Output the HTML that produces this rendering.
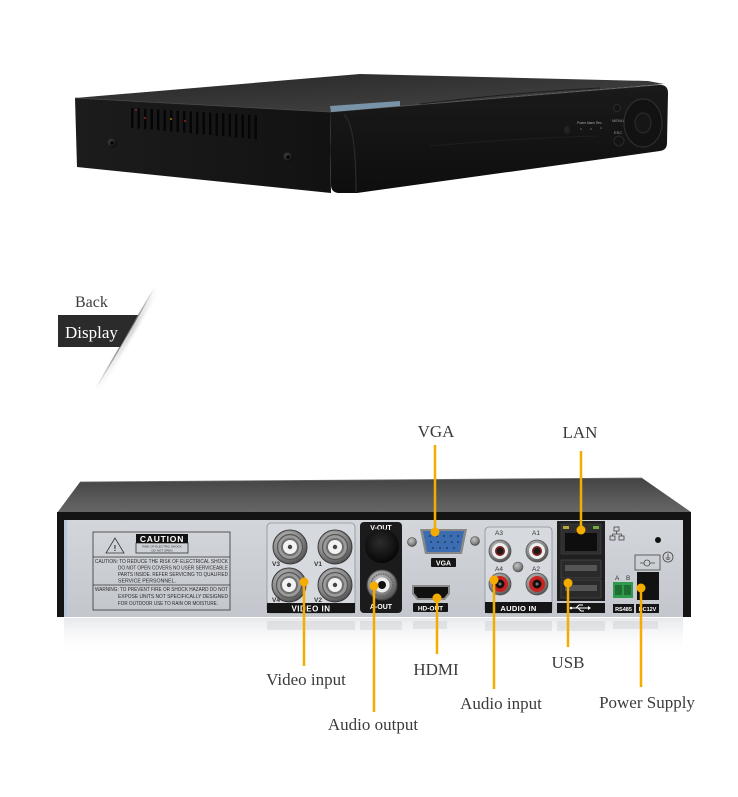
<!DOCTYPE html>
<html><head><meta charset="utf-8"><style>
html,body{margin:0;padding:0;background:#fff;}
svg{display:block;}
.lbl{font-family:"Liberation Serif",serif;font-size:17px;fill:#3b3b3b;}
.pl{font-family:"Liberation Sans",sans-serif;font-weight:bold;fill:#fff;}
.ct{font-family:"Liberation Sans",sans-serif;fill:#2a2a2a;}
</style></head><body>
<svg width="738" height="797" viewBox="0 0 738 797" xmlns="http://www.w3.org/2000/svg">
<defs>
 <linearGradient id="topS" x1="0" y1="0" x2="1" y2="1"><stop offset="0" stop-color="#262626"/><stop offset="1" stop-color="#474747"/></linearGradient>
 <linearGradient id="leftF" x1="0" y1="0" x2="1" y2="0"><stop offset="0" stop-color="#1c1c1c"/><stop offset="1" stop-color="#121212"/></linearGradient>
 <linearGradient id="bez" x1="0" y1="0" x2="0" y2="1"><stop offset="0" stop-color="#1a1a1a"/><stop offset="1" stop-color="#0e0e0e"/></linearGradient>
 <linearGradient id="rTop" x1="0" y1="0" x2="0" y2="1"><stop offset="0" stop-color="#434343"/><stop offset="0.6" stop-color="#5a5a5a"/><stop offset="1" stop-color="#666"/></linearGradient>
 <linearGradient id="plate" x1="0" y1="0" x2="0" y2="1"><stop offset="0" stop-color="#d3d6db"/><stop offset="1" stop-color="#c3c7cd"/></linearGradient>
 <linearGradient id="refl" x1="0" y1="0" x2="0" y2="1"><stop offset="0" stop-color="#e4e6e9" stop-opacity="0.9"/><stop offset="1" stop-color="#ffffff" stop-opacity="0"/></linearGradient>
 <linearGradient id="diag" gradientUnits="userSpaceOnUse" x1="155" y1="287" x2="95" y2="390"><stop offset="0" stop-color="#888" stop-opacity="0"/><stop offset="0.35" stop-color="#666" stop-opacity="0.9"/><stop offset="0.7" stop-color="#777" stop-opacity="0.7"/><stop offset="1" stop-color="#999" stop-opacity="0"/></linearGradient>
 <linearGradient id="diagS" gradientUnits="userSpaceOnUse" x1="155" y1="287" x2="95" y2="390"><stop offset="0" stop-color="#bbb" stop-opacity="0"/><stop offset="0.4" stop-color="#bbb" stop-opacity="0.8"/><stop offset="1" stop-color="#ccc" stop-opacity="0"/></linearGradient>
 <radialGradient id="metal" cx="0.4" cy="0.35" r="0.7"><stop offset="0" stop-color="#c4c4c4"/><stop offset="0.6" stop-color="#8a8a8a"/><stop offset="1" stop-color="#4a4a4a"/></radialGradient>
 <radialGradient id="screw" cx="0.4" cy="0.4" r="0.6"><stop offset="0" stop-color="#4a4a4a"/><stop offset="1" stop-color="#0a0a0a"/></radialGradient>
 <radialGradient id="blk" cx="0.45" cy="0.4" r="0.6"><stop offset="0" stop-color="#2c2c2c"/><stop offset="1" stop-color="#070707"/></radialGradient>
 <filter id="bl" x="-50%" y="-10%" width="200%" height="120%"><feGaussianBlur stdDeviation="1.5"/></filter>
 <g id="bnc">
  <circle r="17" fill="url(#metal)" stroke="#3a3a3a" stroke-width="1"/>
  <circle r="12.5" fill="#9a9a9a" stroke="#555" stroke-width="1.2"/>
  <circle r="9" fill="#6e6e6e"/>
  <circle r="7" fill="#f2f2f2"/>
  <circle r="2.2" fill="#444"/>
 </g>
 <g id="rcaW">
  <circle r="11" fill="url(#metal)" stroke="#555" stroke-width="0.8"/>
  <circle r="8" fill="#eeeeee"/>
  <circle r="5" fill="#7a1c1c"/>
  <circle r="3.2" fill="#1a1a1a"/>
 </g>
 <g id="rcaR">
  <circle r="11" fill="url(#metal)" stroke="#555" stroke-width="0.8"/>
  <circle r="8" fill="#c9221f"/>
  <circle r="4.5" fill="#111"/>
  <circle r="1.5" fill="#777"/>
 </g>
</defs>

<rect width="738" height="797" fill="#fff"/>

<!-- ================= TOP DVR (front view) ================= -->
<polygon points="75,98 360,74 648,81 664,84 330,112" fill="url(#topS)"/>
<polygon points="75,98 330,112 331,193 77,167" fill="url(#leftF)"/>
<line x1="75" y1="98" x2="330" y2="112" stroke="#4a4a4a" stroke-width="0.8"/>
<path d="M330,112 L658,85 Q668,84 668,93 L667,143 Q667,150 660,151 L357,193 L338,193 Q331,192 331,185 Z" fill="url(#bez)"/>
<path d="M330,112 L658,85" stroke="#555" stroke-width="0.8" fill="none"/>
<path d="M344,115 Q356,124 356,192" stroke="#2b2b2b" stroke-width="1.2" fill="none"/>
<path d="M420,104 Q520,92 600,88 M430,146 Q520,138 598,136" stroke="#1f1f1f" stroke-width="1" fill="none"/>
<polygon points="330,106 400,101 400,106 331,112" fill="#8db2cc" opacity="0.75"/>
<!-- slots -->
<g fill="#050505">
<rect x="131" y="108" width="2.4" height="20"/><rect x="137.5" y="108.4" width="2.4" height="20.2"/>
<rect x="144" y="108.8" width="2.4" height="20.4"/><rect x="150.5" y="109.1" width="2.4" height="20.6"/>
<rect x="157" y="109.5" width="2.4" height="20.8"/><rect x="163.5" y="109.9" width="2.4" height="21"/>
<rect x="170" y="110.3" width="2.4" height="21.2"/><rect x="176.5" y="110.7" width="2.4" height="21.4"/>
<rect x="183" y="111" width="2.4" height="21.6"/><rect x="189.5" y="111.4" width="2.4" height="21.8"/>
<rect x="196" y="111.8" width="2.4" height="22"/><rect x="202.5" y="112.2" width="2.4" height="22.2"/>
<rect x="209" y="112.6" width="2.4" height="22.4"/><rect x="215.5" y="113" width="2.4" height="22.6"/>
<rect x="222" y="113.3" width="2.4" height="22.8"/><rect x="228.5" y="113.7" width="2.4" height="23"/>
<rect x="235" y="114.1" width="2.4" height="23.2"/><rect x="241.5" y="114.5" width="2.4" height="23.4"/>
<rect x="248" y="114.9" width="2.4" height="23.6"/><rect x="254.5" y="115.3" width="2.4" height="23.8"/>
</g>
<circle cx="136" cy="110" r="0.9" fill="#c22"/>
<circle cx="145" cy="118" r="0.9" fill="#c22"/>
<circle cx="171" cy="119" r="0.9" fill="#d90"/>
<circle cx="185" cy="121" r="0.9" fill="#c22"/>
<circle cx="112" cy="143" r="5" fill="url(#screw)"/><circle cx="112" cy="143" r="1.8" fill="#000"/>
<circle cx="288" cy="157" r="5" fill="url(#screw)"/><circle cx="288" cy="157" r="1.8" fill="#000"/>
<!-- front controls -->
<ellipse cx="643" cy="123" rx="19" ry="24" fill="#121212" stroke="#2e2e2e" stroke-width="1.2"/>
<ellipse cx="643" cy="123" rx="8" ry="10" fill="#161616" stroke="#2e2e2e" stroke-width="1"/>
<circle cx="617" cy="108" r="3.5" fill="#141414" stroke="#2a2a2a"/>
<circle cx="619" cy="141" r="5" fill="#141414" stroke="#2a2a2a"/>
<text x="612" y="122" font-family="Liberation Sans,sans-serif" font-size="4" fill="#999">MENU</text>
<text x="614" y="134" font-family="Liberation Sans,sans-serif" font-size="4" fill="#999">ESC</text>
<text x="577" y="124" font-family="Liberation Sans,sans-serif" font-size="3.2" fill="#aaa">Power Alarm Rec</text>
<circle cx="581" cy="129" r="0.8" fill="#666"/><circle cx="591" cy="129" r="0.8" fill="#666"/><circle cx="601" cy="128" r="0.8" fill="#666"/>
<ellipse cx="567" cy="130" rx="3" ry="4" fill="#222"/>

<!-- ================= Back / Display ================= -->
<line x1="157" y1="288" x2="97" y2="391" stroke="url(#diagS)" stroke-width="4" filter="url(#bl)"/>
<line x1="155" y1="287" x2="95" y2="390" stroke="url(#diag)" stroke-width="1.4"/>
<text x="75" y="307" class="lbl" style="font-size:16px">Back</text>
<polygon points="58,315 138,315 120,347 58,347" fill="#2b2b2b"/>
<text x="65" y="338" class="lbl" style="fill:#fff;font-size:17px">Display</text>

<!-- ================= REAR DVR ================= -->
<polygon points="80,482 642,478 691,512 57,513" fill="url(#rTop)"/>
<line x1="80" y1="482" x2="642" y2="478" stroke="#6a6a6a" stroke-width="0.8"/>
<rect x="57" y="512" width="634" height="105" fill="#141414"/>
<rect x="64" y="520" width="619" height="97" fill="url(#plate)"/>
<rect x="64" y="520" width="3" height="97" fill="#a9c2d8" opacity="0.7"/>
<!-- reflection -->
<rect x="64" y="618" width="619" height="38" fill="url(#refl)"/>
<g fill="#000" opacity="0.06">
 <rect x="267" y="621" width="88" height="9"/><rect x="360" y="621" width="42" height="9"/>
 <rect x="413" y="621" width="34" height="8"/><rect x="485" y="621" width="67" height="10"/>
 <rect x="557" y="621" width="48" height="10"/><rect x="613" y="621" width="45" height="8"/>
</g>

<!-- caution label -->
<g stroke="#333" stroke-width="0.8" fill="none">
 <rect x="93" y="532" width="137" height="78"/>
 <line x1="93" y1="557" x2="230" y2="557"/>
 <line x1="93" y1="585" x2="230" y2="585"/>
 <polygon points="115,538 106,553 124,553"/>
 <rect x="136" y="543" width="52" height="10"/>
</g>
<rect x="136" y="534" width="52" height="9" fill="#111"/>
<text x="162" y="542" class="pl" font-size="8.5" text-anchor="middle" letter-spacing="0.8">CAUTION</text>
<text x="162" y="547.5" class="ct" font-size="3" text-anchor="middle">RISK OF ELECTRIC SHOCK</text>
<text x="162" y="551.5" class="ct" font-size="3" text-anchor="middle">DO NOT OPEN</text>
<text x="115" y="551" class="ct" font-size="8" text-anchor="middle" font-weight="bold">!</text>
<g class="ct" font-size="5">
 <text x="95" y="563" textLength="133" lengthAdjust="spacingAndGlyphs">CAUTION: TO REDUCE THE RISK OF ELECTRICAL SHOCK</text>
 <text x="118" y="569.5" textLength="110" lengthAdjust="spacingAndGlyphs">DO NOT OPEN COVERS NO USER SERVICEABLE</text>
 <text x="118" y="576" textLength="110" lengthAdjust="spacingAndGlyphs">PARTS INSIDE. REFER SERVICING TO QUALIFIED</text>
 <text x="118" y="582.5" textLength="58" lengthAdjust="spacingAndGlyphs">SERVICE PERSONNEL.</text>
 <text x="95" y="591" textLength="133" lengthAdjust="spacingAndGlyphs">WARNING: TO PREVENT FIRE OR SHOCK HAZARD DO NOT</text>
 <text x="118" y="598" textLength="110" lengthAdjust="spacingAndGlyphs">EXPOSE UNITS NOT SPECIFICALLY DESIGNED</text>
 <text x="118" y="605" textLength="100" lengthAdjust="spacingAndGlyphs">FOR OUTDOOR USE TO RAIN OR MOISTURE.</text>
</g>

<!-- video in panel -->
<rect x="267" y="523" width="88" height="90" rx="4" fill="#d6d9de" stroke="#8e9298" stroke-width="0.8"/>
<rect x="267" y="603" width="88" height="10" fill="#151515"/>
<text x="311" y="611.5" class="pl" font-size="8" text-anchor="middle" letter-spacing="0.5">VIDEO IN</text>
<use href="#bnc" x="290" y="547"/>
<use href="#bnc" x="335" y="547"/>
<use href="#bnc" x="289" y="585"/>
<use href="#bnc" x="335" y="585"/>
<g font-family="Liberation Sans,sans-serif" font-weight="bold" font-size="6.5" fill="#333">
 <text x="272" y="566">V3</text><text x="314" y="566">V1</text>
 <text x="272" y="602">V4</text><text x="314" y="602">V2</text>
</g>

<!-- V-OUT / A-OUT -->
<rect x="360" y="522" width="42" height="91" rx="4" fill="#1b1b1b"/>
<text x="381" y="530" class="pl" font-size="7" text-anchor="middle" fill="#ddd">V-OUT</text>
<circle cx="382" cy="546" r="17" fill="url(#blk)"/>
<circle cx="382" cy="585" r="15" fill="url(#metal)" stroke="#444"/>
<circle cx="382" cy="585" r="11" fill="none" stroke="#666" stroke-width="1.5" stroke-dasharray="1.5 1"/>
<circle cx="382" cy="585" r="7.5" fill="#eee"/>
<circle cx="382" cy="585" r="4" fill="#111"/>
<text x="381" y="609" class="pl" font-size="7" text-anchor="middle" fill="#ddd">A-OUT</text>

<!-- VGA -->
<circle cx="412" cy="542" r="4.5" fill="url(#metal)" stroke="#444" stroke-width="0.6"/>
<circle cx="475" cy="541" r="4.5" fill="url(#metal)" stroke="#444" stroke-width="0.6"/>
<polygon points="420,529 467,529 462,554 425,554" fill="#888"/>
<polygon points="423,531 464,531 460,552 427,552" fill="#3b6db0"/>
<g fill="#1e3f6e">
 <circle cx="430" cy="536" r="1"/><circle cx="437" cy="536" r="1"/><circle cx="444" cy="536" r="1"/><circle cx="451" cy="536" r="1"/><circle cx="458" cy="536" r="1"/>
 <circle cx="431" cy="542" r="1"/><circle cx="438" cy="542" r="1"/><circle cx="445" cy="542" r="1"/><circle cx="452" cy="542" r="1"/><circle cx="458" cy="542" r="1"/>
 <circle cx="433" cy="548" r="1"/><circle cx="440" cy="548" r="1"/><circle cx="447" cy="548" r="1"/><circle cx="454" cy="548" r="1"/>
</g>
<rect x="431" y="558" width="25" height="9" rx="1" fill="#151515"/>
<text x="443.5" y="565.5" class="pl" font-size="7" text-anchor="middle">VGA</text>

<!-- HDMI -->
<path d="M412,585 L450,585 L450,594 L445,600 L417,600 L412,594 Z" fill="#8a8a8a"/>
<path d="M414,587 L448,587 L448,593 L444,598 L418,598 L414,593 Z" fill="#111"/>
<rect x="413" y="603" width="35" height="9" rx="1" fill="#151515"/>
<text x="430.5" y="610.5" class="pl" font-size="6.5" text-anchor="middle">HD-OUT</text>

<!-- Audio in panel -->
<rect x="485" y="527" width="67" height="86" rx="4" fill="#d6d9de" stroke="#8e9298" stroke-width="0.8"/>
<rect x="485" y="602" width="67" height="11" fill="#151515"/>
<text x="518.5" y="611" class="pl" font-size="7.5" text-anchor="middle" letter-spacing="0.3">AUDIO IN</text>
<g font-family="Liberation Sans,sans-serif" font-size="6.5" fill="#333">
 <text x="495" y="535">A3</text><text x="532" y="535">A1</text>
 <text x="495" y="571">A4</text><text x="532" y="571">A2</text>
</g>
<use href="#rcaW" x="500" y="551"/>
<use href="#rcaW" x="537" y="551"/>
<use href="#rcaR" x="500" y="584"/>
<use href="#rcaR" x="537" y="584"/>
<circle cx="518" cy="567" r="5" fill="url(#metal)" stroke="#555" stroke-width="0.6"/>

<!-- LAN / USB -->
<rect x="557" y="521" width="48" height="80" fill="#1f1f1f"/>
<rect x="561" y="524" width="40" height="30" fill="#2e2e2e" stroke="#444" stroke-width="0.6"/>
<rect x="565" y="533" width="32" height="18" fill="#0e0e0e"/>
<rect x="563" y="526" width="6" height="3" fill="#b9a53a"/>
<rect x="593" y="526" width="6" height="3" fill="#6fae3c"/>
<rect x="561" y="560" width="40" height="18" fill="#2a2a2a" stroke="#555" stroke-width="0.6"/>
<rect x="565" y="565" width="32" height="6" fill="#555"/>
<rect x="561" y="580" width="40" height="18" fill="#2a2a2a" stroke="#555" stroke-width="0.6"/>
<rect x="565" y="585" width="32" height="6" fill="#555"/>
<rect x="557" y="603" width="48" height="10" fill="#151515"/>
<g stroke="#fff" stroke-width="1" fill="none">
 <line x1="572" y1="608" x2="588" y2="608"/>
 <path d="M576,608 L579,605 L583,605"/><path d="M578,608 L581,611 L584,611"/>
</g>
<circle cx="571" cy="608" r="1.3" fill="#fff"/>
<polygon points="588,606 591,608 588,610" fill="#fff"/>

<!-- right section -->
<g stroke="#444" stroke-width="0.8" fill="none">
 <rect x="614" y="527" width="5" height="4"/><rect x="610" y="536" width="5" height="4"/><rect x="619" y="536" width="5" height="4"/>
 <path d="M616.5,531 V534 M612.5,534 H621.5 M612.5,534 V536 M621.5,534 V536"/>
 <circle cx="668" cy="557" r="5"/>
 <path d="M668,553.5 V558 M665.5,558 H670.5 M666.5,559.5 H669.5"/>
 <rect x="635" y="555" width="25" height="15"/>
 <circle cx="647" cy="563" r="3"/>
 <path d="M640,563 H644 M650,563 H655"/>
</g>
<circle cx="658" cy="540" r="3" fill="#111"/>
<g font-family="Liberation Sans,sans-serif" font-size="6.5" fill="#333">
 <text x="615" y="580">A</text><text x="626" y="580">B</text>
</g>
<rect x="613" y="582" width="20" height="16" fill="#2e9a4c"/>
<rect x="615" y="585" width="7" height="10" fill="#1f6e34"/><rect x="624" y="585" width="7" height="10" fill="#1f6e34"/>
<rect x="637" y="572" width="22" height="28" fill="#121212"/>
<rect x="613" y="604" width="21" height="9" fill="#151515"/>
<text x="623.5" y="611" class="pl" font-size="5.5" text-anchor="middle">RS485</text>
<rect x="636" y="604" width="23" height="9" fill="#151515"/>
<text x="647.5" y="611" class="pl" font-size="5.5" text-anchor="middle">DC12V</text>

<!-- ================= callout lines ================= -->
<g stroke="#f4ac00" stroke-width="2.5">
 <line x1="435" y1="445" x2="435" y2="532"/>
 <line x1="581" y1="451" x2="581" y2="530"/>
 <line x1="304" y1="582" x2="304" y2="666"/>
 <line x1="374" y1="586" x2="374" y2="712"/>
 <line x1="437" y1="598" x2="437" y2="654"/>
 <line x1="494" y1="580" x2="494" y2="689"/>
 <line x1="568" y1="583" x2="568" y2="647"/>
 <line x1="641" y1="588" x2="641" y2="687"/>
</g>
<g fill="#f4ac00">
 <circle cx="435" cy="532" r="4.5"/>
 <circle cx="581" cy="530" r="4.5"/>
 <circle cx="304" cy="582" r="4.5"/>
 <circle cx="374" cy="586" r="4.5"/>
 <circle cx="437" cy="598" r="4.5"/>
 <circle cx="494" cy="580" r="4.5"/>
 <circle cx="568" cy="583" r="4.5"/>
 <circle cx="641" cy="588" r="4.5"/>
</g>

<!-- labels -->
<text x="436" y="437" class="lbl" text-anchor="middle">VGA</text>
<text x="580" y="438" class="lbl" text-anchor="middle">LAN</text>
<text x="306" y="685" class="lbl" text-anchor="middle">Video input</text>
<text x="373" y="730" class="lbl" text-anchor="middle">Audio output</text>
<text x="436" y="675" class="lbl" text-anchor="middle">HDMI</text>
<text x="501" y="709" class="lbl" text-anchor="middle">Audio input</text>
<text x="568" y="668" class="lbl" text-anchor="middle">USB</text>
<text x="647" y="708" class="lbl" text-anchor="middle">Power Supply</text>
</svg>
</body></html>
